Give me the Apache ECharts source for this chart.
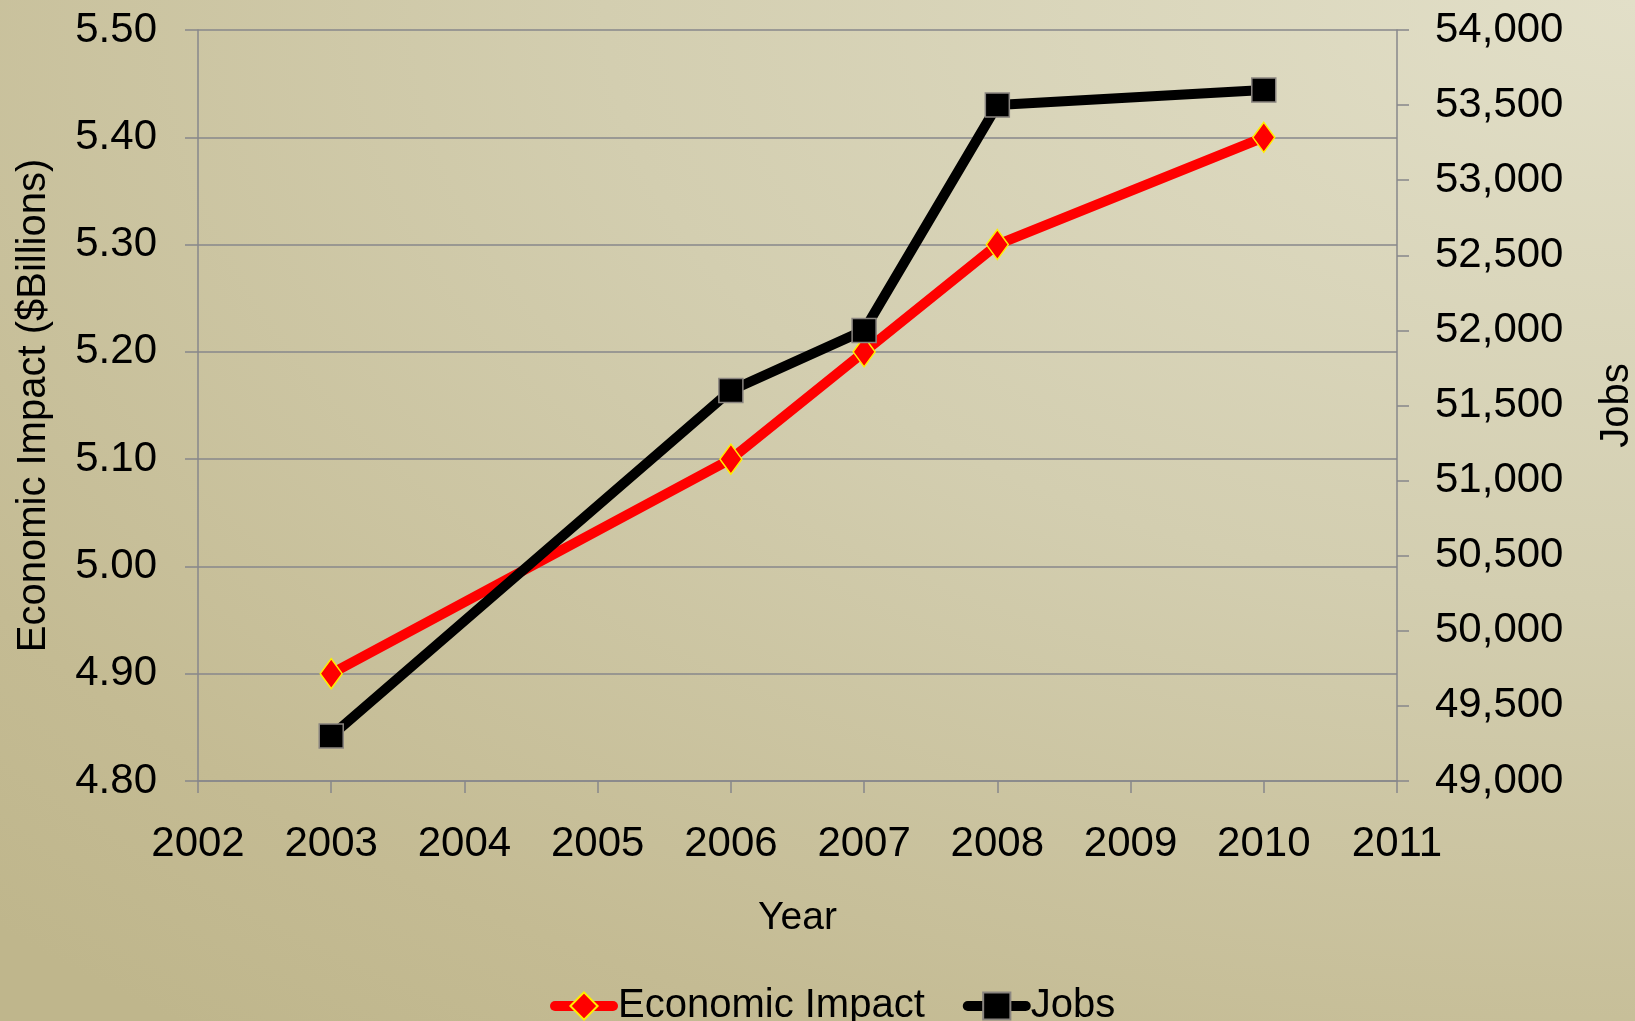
<!DOCTYPE html>
<html>
<head>
<meta charset="utf-8">
<script src="https://cdn.jsdelivr.net/npm/echarts@6/dist/echarts.min.js"></script>
<style>
html,body{margin:0;padding:0;width:1635px;height:1021px;overflow:hidden;}
body{background:radial-gradient(ellipse 140% 130% at 100% 0%, #e2dfc8 0%, #d3ceb0 45%, #c4bb93 85%, #bfb68c 100%);}
#chart{width:1635px;height:1021px;}
</style>
</head>
<body>
<div id="chart"></div>
<script>
const yearTicks = [2002, 2003, 2004, 2005, 2006, 2007, 2008, 2009, 2010, 2011];
const dataYears = [2003, 2006, 2007, 2008, 2010];
const economicImpact = [4.90, 5.10, 5.20, 5.30, 5.40];
const jobs = [49300, 51600, 52000, 53500, 53600];

const FONT = '"Liberation Sans", Arial, Helvetica, sans-serif';
const AXIS_GRAY = '#87878b';

const chart = echarts.init(document.getElementById('chart'), null, {renderer: 'canvas'});
chart.setOption({
  backgroundColor: 'transparent',
  textStyle: {fontFamily: FONT, color: '#000'},
  grid: {left: 198, right: 238, top: 30, bottom: 240, containLabel: false, outerBoundsMode: 'none'},
  legend: {
    left: 545, top: 981,
    itemWidth: 58, itemHeight: 34, itemGap: 38,
    lineStyle: {width: 10, cap: 'round'},
    textStyle: {fontFamily: FONT, fontSize: 40, color: '#000'},
    data: ['Economic Impact', 'Jobs']
  },
  xAxis: {
    type: 'value', min: yearTicks[0], max: yearTicks[yearTicks.length - 1], interval: 1,
    name: 'Year', nameLocation: 'middle', nameGap: 118,
    nameTextStyle: {fontFamily: FONT, fontSize: 39, color: '#000'},
    axisLine: {show: true, lineStyle: {color: AXIS_GRAY, width: 1.5}},
    axisTick: {show: true, length: 12, lineStyle: {color: AXIS_GRAY, width: 1.5}},
    axisLabel: {fontFamily: FONT, fontSize: 42, color: '#000', margin: 42, formatter: v => String(v)},
    splitLine: {show: false}
  },
  yAxis: [
    {
      type: 'value', min: 4.8, max: 5.5, interval: 0.1, position: 'left',
      name: 'Economic Impact ($Billions)', nameLocation: 'middle', nameGap: 144, nameRotate: 90,
      nameTextStyle: {fontFamily: FONT, fontSize: 40, color: '#000'},
      axisLine: {show: true, lineStyle: {color: AXIS_GRAY, width: 1.5}},
      axisTick: {show: true, length: 13, lineStyle: {color: AXIS_GRAY, width: 1.5}},
      axisLabel: {fontFamily: FONT, fontSize: 42, color: '#000', margin: 41, formatter: v => v.toFixed(2)},
      splitLine: {show: true, lineStyle: {color: AXIS_GRAY, width: 1.5}}
    },
    {
      type: 'value', min: 49000, max: 54000, interval: 500, position: 'right',
      name: 'Jobs', nameLocation: 'middle', nameGap: 200, nameRotate: 90,
      nameTextStyle: {fontFamily: FONT, fontSize: 40, color: '#000'},
      axisLine: {show: true, lineStyle: {color: AXIS_GRAY, width: 1.5}},
      axisTick: {show: true, length: 12, lineStyle: {color: AXIS_GRAY, width: 1.5}},
      axisLabel: {fontFamily: FONT, fontSize: 42, color: '#000', margin: 38,
        formatter: v => v.toLocaleString('en-US')},
      splitLine: {show: false}
    }
  ],
  series: [
    {
      name: 'Economic Impact', type: 'line', yAxisIndex: 0,
      data: dataYears.map((y, i) => [y, economicImpact[i]]),
      symbol: 'diamond', symbolSize: [22, 30],
      lineStyle: {color: '#ff0000', width: 10, cap: 'round', join: 'round'},
      itemStyle: {color: '#ff0000', borderColor: '#ffee00', borderWidth: 1.5},
      z: 3
    },
    {
      name: 'Jobs', type: 'line', yAxisIndex: 1,
      data: dataYears.map((y, i) => [y, jobs[i]]),
      symbol: 'rect', symbolSize: 24,
      lineStyle: {color: '#000000', width: 10, cap: 'round', join: 'round'},
      itemStyle: {color: '#000000', borderColor: '#8a8580', borderWidth: 1.5},
      z: 4
    }
  ],
  animation: false
});
</script>
</body>
</html>
